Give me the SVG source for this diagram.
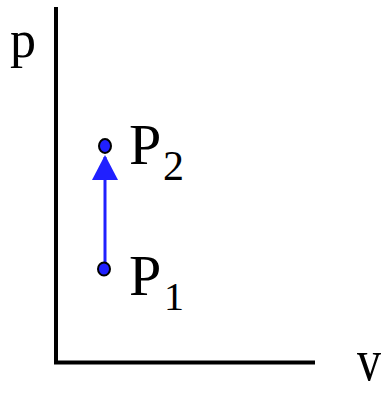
<svg xmlns="http://www.w3.org/2000/svg" width="383" height="393" viewBox="0 0 383 393">
<style>
.lbl{font-family:"Liberation Serif","Times New Roman",serif;fill:#000}
.axis{stroke:#000;stroke-width:4;fill:none}
.pt{fill:#2020ff;stroke:#000;stroke-width:2}
</style>
<rect width="383" height="393" fill="#fff"/>
<g id="axes">
<path class="axis" d="M56,7 V362.5 H315"/>
<text class="lbl" x="10" y="57" font-size="52">p</text>
<text class="lbl" font-size="48" transform="translate(357,380) scale(1,1.25)">v</text>
</g>
<g id="connectors">
<line x1="105" y1="268" x2="105" y2="157" stroke="#2020ff" stroke-width="3"/>
<path d="M105,155 L118,180 L92,180 Z" fill="#2020ff"/>
</g>
<g id="p1">
<ellipse class="pt" cx="104" cy="269" rx="6" ry="6.5"/>
<text class="lbl" x="129" y="295" font-size="58">P</text>
<text class="lbl" x="164" y="310" font-size="40">1</text>
</g>
<g id="p2">
<ellipse class="pt" cx="105" cy="146" rx="6" ry="7"/>
<text class="lbl" x="129" y="164" font-size="58">P</text>
<text class="lbl" x="163" y="180" font-size="42">2</text>
</g>
</svg>
